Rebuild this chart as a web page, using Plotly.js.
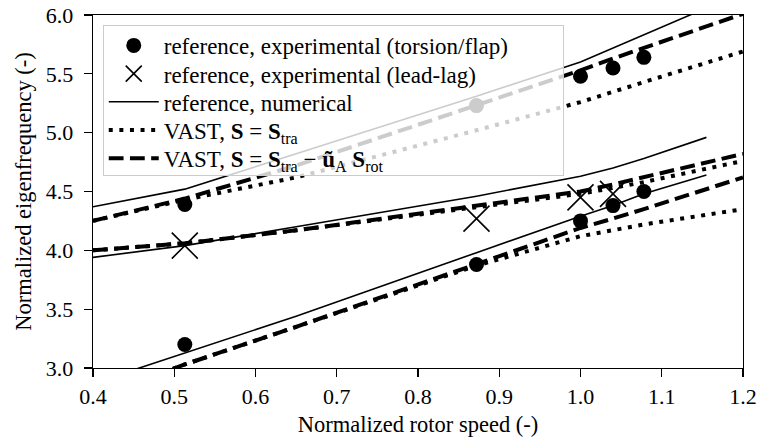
<!DOCTYPE html>
<html>
<head>
<meta charset="utf-8">
<script src="https://cdn.plot.ly/plotly-3.0.1.min.js"></script>
<style>html,body{margin:0;padding:0;background:#fff;}#chart{width:757px;height:442px;}</style>
</head>
<body>
<div id="chart"></div>
<script>
// Experimental data
const expTFx = [0.513, 0.513, 0.872, 0.872, 1.0, 1.0, 1.04, 1.04, 1.078, 1.078];
const expTFy = [4.39, 3.20, 3.88, 5.23, 4.25, 5.48, 4.38, 5.55, 4.50, 5.64];
const expLLx = [0.513, 0.872, 1.0, 1.04];
const expLLy = [4.04, 4.27, 4.45, 4.48];

// Reference numerical (three modes)
const refX = [0.4, 0.513, 0.65, 0.872, 1.0, 1.04, 1.078, 1.155];
const refMode1 = [2.87, 3.13, 3.44, 3.98, 4.29, 4.38, 4.48, 4.64];
const refMode2 = [3.94, 4.04, 4.20, 4.46, 4.63, 4.70, 4.78, 4.96];
const refMode3 = [4.37, 4.52, 4.82, 5.31, 5.60, 5.72, 5.83, 6.06];

// VAST results
const vastX = [0.4, 0.513, 0.65, 0.872, 1.0, 1.04, 1.078, 1.2];
const traMode1 = [2.75, 3.03, 3.35, 3.87, 4.12, 4.17, 4.22, 4.35];
const traMode2 = [4.00, 4.06, 4.17, 4.37, 4.48, 4.53, 4.58, 4.76];
const traMode3 = [4.25, 4.43, 4.62, 5.02, 5.26, 5.35, 5.43, 5.69];
const rotMode1 = [2.75, 3.03, 3.35, 3.88, 4.19, 4.27, 4.35, 4.62];
const rotMode2 = [4.00, 4.06, 4.17, 4.38, 4.50, 4.56, 4.62, 4.82];
const rotMode3 = [4.25, 4.44, 4.72, 5.23, 5.53, 5.63, 5.72, 6.01];

const xTicks = [0.4, 0.5, 0.6, 0.7, 0.8, 0.9, 1.0, 1.1, 1.2];
const yTicks = [3.0, 3.5, 4.0, 4.5, 5.0, 5.5, 6.0];

const names = [
  'reference, experimental (torsion/flap)',
  'reference, experimental (lead-lag)',
  'reference, numerical',
  'VAST, <b>S</b> = <b>S</b><sub>tra</sub>',
  'VAST, <b>S</b> = <b>S</b><sub>tra</sub> \u2212 <b>\u0169</b><sub>A</sub> <b>S</b><sub>rot</sub>'
];

function joinModes(x, modes) {
  const xs = [], ys = [];
  modes.forEach((m, i) => {
    if (i > 0) { xs.push(null); ys.push(null); }
    xs.push(...x); ys.push(...m);
  });
  return {x: xs, y: ys};
}

const ref = joinModes(refX, [refMode1, refMode2, refMode3]);
const tra = joinModes(vastX, [traMode1, traMode2, traMode3]);
const rot = joinModes(vastX, [rotMode1, rotMode2, rotMode3]);

const traces = [
  {x: expTFx, y: expTFy, mode: 'markers', name: names[0],
   marker: {symbol: 'circle', size: 15, color: 'black'}},
  {x: expLLx, y: expLLy, mode: 'markers', name: names[1],
   marker: {symbol: 'x-thin', size: 26, color: 'black', line: {width: 1.6, color: 'black'}}},
  {x: ref.x, y: ref.y, mode: 'lines', name: names[2],
   line: {color: 'black', width: 1.6}},
  {x: tra.x, y: tra.y, mode: 'lines', name: names[3],
   line: {color: 'black', width: 4, dash: '4px,6.6px'}},
  {x: rot.x, y: rot.y, mode: 'lines', name: names[4],
   line: {color: 'black', width: 4, dash: '14.8px,6.4px'}}
];

const FAM = "'Liberation Serif', 'Times New Roman', Times, serif";
const font = {family: FAM, size: 22.5, color: 'black'};
const legFont = {family: FAM, size: 23, color: 'black'};
const tickFont = {family: FAM, size: 22, color: 'black'};

const layout = {
  width: 757, height: 442,
  margin: {l: 93, r: 14, t: 15, b: 74},
  paper_bgcolor: 'white', plot_bgcolor: 'white',
  font: font,
  showlegend: true,
  legend: {
    x: 0.015, y: 0.972, xanchor: 'left', yanchor: 'top',
    bgcolor: 'rgba(255,255,255,0.8)', bordercolor: '#cccccc', borderwidth: 1,
    font: legFont, traceorder: 'normal', itemwidth: 50
  },
  xaxis: {
    range: [0.4, 1.2], tickvals: xTicks, tickformat: '.1f', tickfont: tickFont,
    showline: true, mirror: true, linecolor: 'black', linewidth: 1.3,
    ticks: 'outside', ticklen: 8, tickwidth: 1.3, tickcolor: 'black',
    showgrid: false, zeroline: false,
    title: {text: 'Normalized rotor speed (-)', font: font, standoff: 8}
  },
  yaxis: {
    range: [3.0, 6.0], tickvals: yTicks, tickformat: '.1f', tickfont: tickFont,
    showline: true, mirror: true, linecolor: 'black', linewidth: 1.3,
    ticks: 'outside', ticklen: 8, tickwidth: 1.3, tickcolor: 'black',
    ticklabelstandoff: 6,
    showgrid: false, zeroline: false,
    title: {text: 'Normalized eigenfrequency (-)', font: font, standoff: 8}
  }
};

// Legend spacing tweak to match the reference's tighter rows and wider box
function tightenLegend(gd) {
  try {
    const leg = gd.querySelector('.legend');
    if (!leg) return;
    const items = leg.querySelectorAll('.traces');
    const rowGap = 28.2, firstY = 20.5;
    items.forEach((el, i) => {
      const t = el.getAttribute('transform') || '';
      const m = t.match(/translate\(\s*([-\d.]+)[ ,]+([-\d.]+)\s*\)/);
      const x = m ? parseFloat(m[1]) : 1;
      el.setAttribute('transform', 'translate(' + x + ',' + (firstY + i * rowGap) + ')');
    });
    const newH = firstY + (items.length - 1) * rowGap + 16.5;
    const newW = 460;
    const bg = leg.querySelector('rect.bg');
    if (bg) { bg.setAttribute('height', newH); bg.setAttribute('width', newW); }
    const sb = leg.querySelector('.scrollbox');
    const cp = sb && sb.getAttribute('clip-path');
    const idm = cp && cp.match(/#([^)'"]+)/);
    if (idm) {
      const clip = document.getElementById(idm[1]);
      const r = clip && clip.querySelector('rect');
      if (r) { r.setAttribute('height', newH + 10); r.setAttribute('width', newW + 10); }
    }
  } catch (e) { /* keep default legend */ }
}

Plotly.newPlot('chart', traces, layout, {displayModeBar: false, staticPlot: true})
  .then(gd => tightenLegend(gd));
</script>
</body>
</html>
